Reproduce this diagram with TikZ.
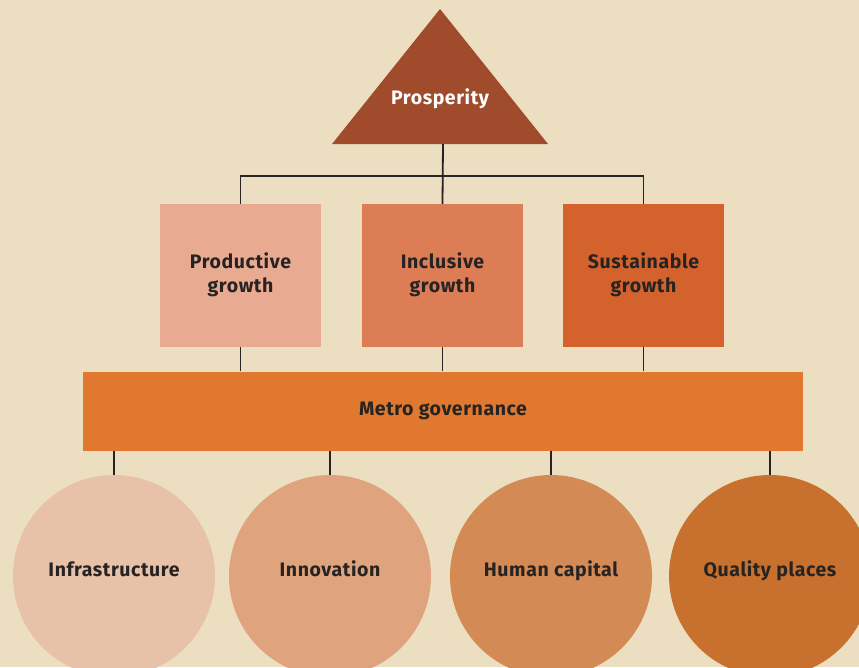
\documentclass[tikz,border=0pt]{standalone}
\usepackage{fontspec}
\setmainfont{Fira Sans}[LetterSpace=3]
\definecolor{bg}{HTML}{EBDEC1}
\definecolor{cpros}{HTML}{A04C2C}
\definecolor{cprod}{HTML}{E8AA90}
\definecolor{cincl}{HTML}{DC7D55}
\definecolor{csus}{HTML}{D4622D}
\definecolor{cmetro}{HTML}{E07830}
\definecolor{cinfra}{HTML}{E8C2A8}
\definecolor{cinno}{HTML}{DFA47E}
\definecolor{chum}{HTML}{D48A54}
\definecolor{cqual}{HTML}{C8702E}
\definecolor{ink}{HTML}{262322}
\begin{document}
\begin{tikzpicture}[x=1pt,y=-1pt,
  lbl/.style={font=\fontsize{19.5}{24}\selectfont\bfseries, text=ink, align=center},
  pillar/.style={lbl, rectangle, minimum width=161pt, minimum height=143pt, inner sep=0pt},
  ball/.style={lbl, circle, minimum size=202pt, inner sep=0pt},
  conn/.style={draw=ink, line width=1.8pt}]
\useasboundingbox (0,0) rectangle (859,667);
\clip (0,0) rectangle (859,667);
\fill[bg] (0,0) rectangle (859,667);
% triangle
\fill[cpros] (440,9) -- (548,144) -- (332,144) -- cycle;
\node[lbl, text=white] (pros) at (440,99) {Prosperity};
\coordinate (tb) at (443,144);
\coordinate (hj) at (443,176);
% pillars
\node[pillar, fill=cprod] (prod) at (240.5,275.5) {\raisebox{9pt}{\begin{tabular}{@{}c@{}}Productive\\growth\end{tabular}}};
\node[pillar, fill=cincl] (incl) at (442.5,275.5) {\raisebox{9pt}{\begin{tabular}{@{}c@{}}Inclusive\\growth\end{tabular}}};
\node[pillar, fill=csus] (sus) at (643.5,275.5) {\raisebox{9pt}{\begin{tabular}{@{}c@{}}Sustainable\\growth\end{tabular}}};
% metro bar
\node[lbl, rectangle, fill=cmetro, minimum width=720pt, minimum height=79pt, inner sep=0pt] (metro) at (443,411) {Metro governance};
% circles
\node[ball, fill=cinfra] (infra) at (114,576) {\raisebox{14pt}{Infrastructure}};
\node[ball, fill=cinno] (inno) at (330,576) {\raisebox{14pt}{Innovation}};
\node[ball, fill=chum] (hum) at (551,576) {\raisebox{14pt}{Human capital}};
\node[ball, fill=cqual] (qual) at (770,576) {\raisebox{14pt}{Quality places}};
% connectors
\draw[conn] (tb) -- (incl.north);
\draw[conn] (prod.north) |- (sus.north |- hj) -- (sus.north);
\draw[conn] (prod.south) -- (prod.south |- metro.north);
\draw[conn] (incl.south) -- (incl.south |- metro.north);
\draw[conn] (sus.south) -- (sus.south |- metro.north);
\draw[conn] (infra.north |- metro.south) -- (infra.north);
\draw[conn] (inno.north |- metro.south) -- (inno.north);
\draw[conn] (hum.north |- metro.south) -- (hum.north);
\draw[conn] (qual.north |- metro.south) -- (qual.north);
\end{tikzpicture}
\end{document}
